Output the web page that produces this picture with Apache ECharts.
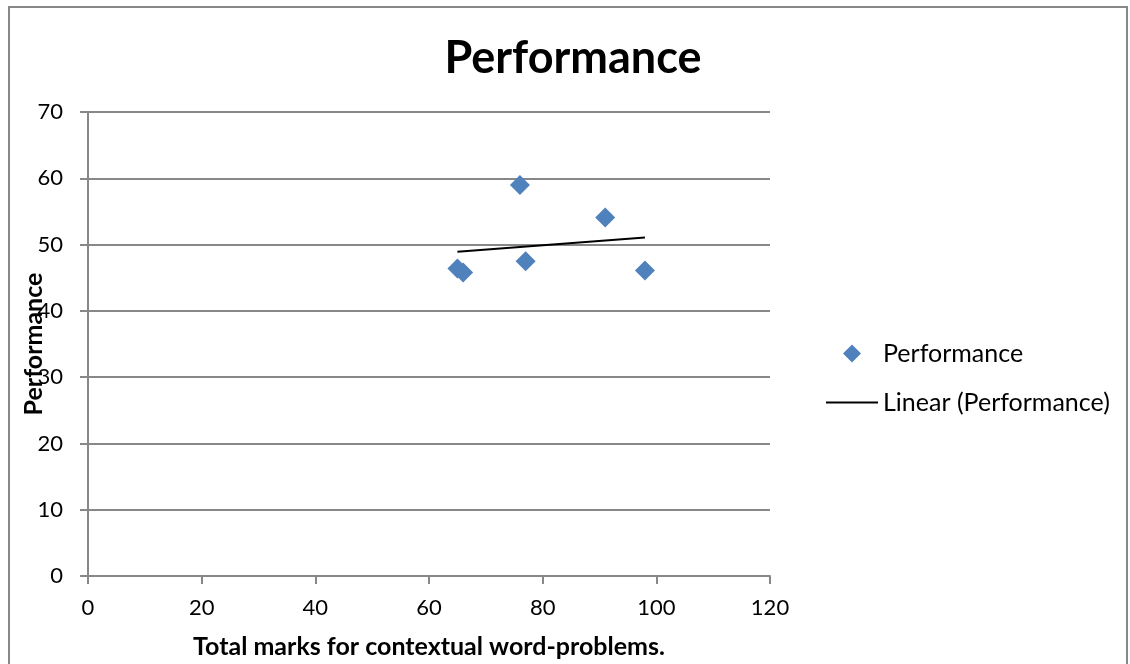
<!DOCTYPE html>
<html>
<head>
<meta charset="utf-8">
<script src="https://cdn.jsdelivr.net/npm/echarts@6/dist/echarts.min.js"></script>
<style>
html,body{margin:0;padding:0;background:#fff;}
#chart{width:1130px;height:664px;}
</style>
</head>
<body>
<div id="chart"></div>
<script>
var marks = [65, 66, 76, 77, 91, 98];
var performance = [46.4, 45.8, 59.0, 47.5, 54.1, 46.1];
var xTicks = [0, 20, 40, 60, 80, 100, 120];
var yTicks = [0, 10, 20, 30, 40, 50, 60, 70];

// least-squares trend line computed from the data
function linearFit(xs, ys) {
  var n = xs.length, mx = 0, my = 0;
  for (var i = 0; i < n; i++) { mx += xs[i]; my += ys[i]; }
  mx /= n; my /= n;
  var sxy = 0, sxx = 0;
  for (var j = 0; j < n; j++) { sxy += (xs[j]-mx)*(ys[j]-my); sxx += (xs[j]-mx)*(xs[j]-mx); }
  var b = sxy / sxx, a = my - b*mx;
  var x0 = Math.min.apply(null, xs), x1 = Math.max.apply(null, xs);
  return [[x0, a + b*x0], [x1, a + b*x1]];
}

var pts = marks.map(function (m, i) { return [m, performance[i]]; });
var trend = linearFit(marks, performance);

var font = 'Lato, Carlito, "Open Sans", sans-serif';
var gray = '#888888';

var chart = echarts.init(document.getElementById('chart'));
chart.setOption({
  animation: false,
  textStyle: { fontFamily: font },
  graphic: [{
    type: 'rect', shape: { x: 9, y: 7, width: 1118, height: 680 },
    style: { fill: 'none', stroke: gray, lineWidth: 2 }, z: -1
  }],
  title: {
    text: 'Performance', top: 31,
    textStyle: { fontFamily: font, fontSize: 45, fontWeight: 'bold', color: '#000' },
    left: 568, textAlign: 'center'
  },
  legend: [{
    data: ['Performance'], left: 838, top: 336, orient: 'vertical',
    icon: 'diamond', itemWidth: 18, itemHeight: 18, itemGap: 0,
    textStyle: { fontFamily: font, fontSize: 25, color: '#000', padding: [0, 0, 0, 17] }
  }, {
    data: ['Linear (Performance)'], left: 821, top: 385, orient: 'vertical',
    icon: 'rect', itemWidth: 52, itemHeight: 2, itemGap: 0,
    textStyle: { fontFamily: font, fontSize: 25, color: '#000' }
  }],
  grid: { left: 88, right: 360, top: 112, bottom: 88, containLabel: false, outerBoundsMode: 'none' },
  xAxis: {
    type: 'value', min: 0, max: 120, interval: 20,
    name: 'Total marks for contextual word-problems.', nameLocation: 'middle', nameGap: 58,
    nameMoveOverlap: false,
    nameTextStyle: { fontFamily: font, fontSize: 25, fontWeight: 'bold', color: '#000' },
    axisLine: { show: true, onZero: false, lineStyle: { color: gray, width: 2 } },
    axisTick: { show: true, length: 8, lineStyle: { color: gray, width: 2 } },
    axisLabel: { fontFamily: font, fontSize: 22, color: '#000', margin: 21,
      formatter: function (v) { return xTicks.indexOf(v) >= 0 ? String(v) : ''; } },
    splitLine: { show: false }
  },
  yAxis: {
    type: 'value', min: 0, max: 70, interval: 10,
    name: 'Performance', nameLocation: 'middle', nameGap: 42, nameRotate: 90,
    nameMoveOverlap: false,
    nameTextStyle: { fontFamily: font, fontSize: 25, fontWeight: 'bold', color: '#000' },
    axisLine: { show: true, lineStyle: { color: gray, width: 2 } },
    axisTick: { show: true, length: 8, lineStyle: { color: gray, width: 2 } },
    axisLabel: { fontFamily: font, fontSize: 22, color: '#000', margin: 25,
      formatter: function (v) { return yTicks.indexOf(v) >= 0 ? String(v) : ''; } },
    splitLine: { show: true, lineStyle: { color: gray, width: 2 } }
  },
  series: [{
    name: 'Performance', type: 'scatter', data: pts,
    symbol: 'diamond', symbolSize: 20,
    itemStyle: { color: '#4F81BD', opacity: 1 }, z: 3
  }, {
    name: 'Linear (Performance)', type: 'line', data: trend,
    showSymbol: false, symbol: 'none',
    lineStyle: { color: '#000', width: 2 }, itemStyle: { color: '#000' }, z: 2
  }]
});
</script>
</body>
</html>
